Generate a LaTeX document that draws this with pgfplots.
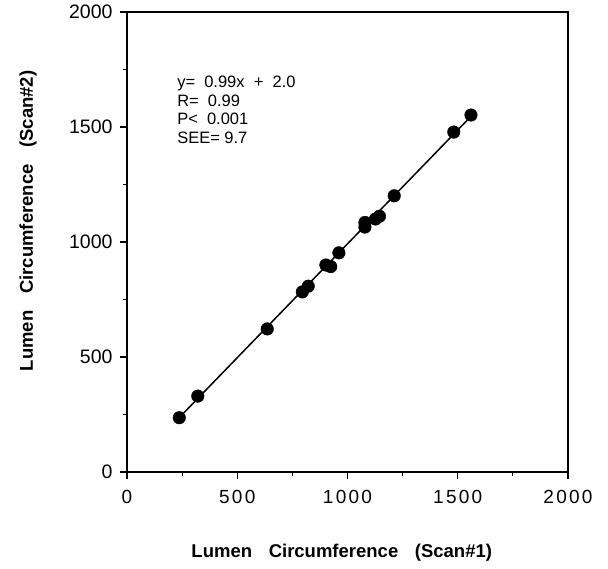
\documentclass[border=0pt]{standalone}
\usepackage{fontspec}
\setmainfont{Liberation Sans}
\newfontfamily\xtickfont[LetterSpace=12]{Liberation Sans}
\usepackage{pgfplots}
\pgfplotsset{compat=1.18}
\begin{document}
\begin{tikzpicture}
\path[use as bounding box] (-127pt,-96pt) rectangle (481pt,472pt);
\begin{axis}[
  scale only axis, width=441pt, height=460pt,
  xmin=0, xmax=2000, ymin=0, ymax=2000,
  xtick={0,500,1000,1500,2000}, ytick={0,500,1000,1500,2000},
  minor xtick={250,750,1250,1750}, minor ytick={250,750,1250,1750},
  tick pos=left, tick align=outside,
  major tick length=7pt, minor tick length=4pt,
  axis line style={line width=1.4pt},
  every tick/.style={black, line width=1.2pt},
  /pgf/number format/assume math mode=true,
  scaled ticks=false, /pgf/number format/1000 sep={},
  yticklabel style={font=\fontsize{19.5}{22}\selectfont, xshift=-4pt},
  xticklabel style={font=\xtickfont\fontsize{19}{22}\selectfont, yshift=-8pt},
  xlabel={Lumen\hspace{0.9em}Circumference\hspace{0.9em}(Scan\#1)},
  ylabel={Lumen\hspace{0.9em}Circumference\hspace{0.9em}(Scan\#2)},
  xlabel style={at={(axis description cs:0.487,-0.176)}, anchor=center, font=\bfseries\fontsize{18.5}{20}\selectfont},
  ylabel style={at={(axis description cs:-0.2245,0.546)}, anchor=center, font=\bfseries\fontsize{18.5}{20}\selectfont},
]
\addplot[black, line width=1.5pt] coordinates {(237,236.6) (1560,1546.4)};
\addplot[only marks, mark=*, mark size=6.3pt, black] coordinates {
  (237,236) (321,330) (636,622) (795,783) (822,808) (902,900) (924,893)
  (961,953) (1079,1065) (1079,1085) (1127,1100) (1145,1112) (1212,1201)
  (1482,1478) (1560,1552)
};
\node[anchor=north west, align=left, inner sep=0pt, font=\fontsize{16.5}{18.5}\selectfont]
  at (axis cs:227,1722) {y=\ \ 0.99x\ \ +\ \ 2.0\\R=\ \ 0.99\\P<\ \ 0.001\\SEE=\ 9.7};
\end{axis}
\end{tikzpicture}
\end{document}
